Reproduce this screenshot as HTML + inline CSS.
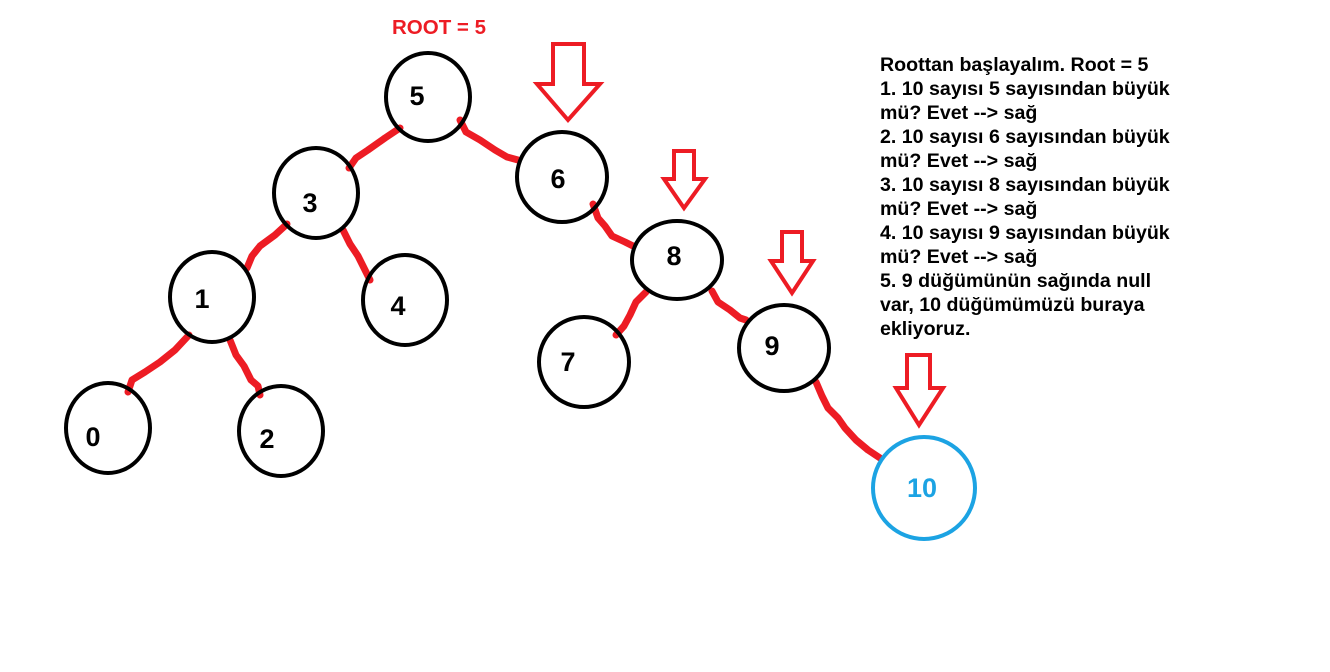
<!DOCTYPE html>
<html><head><meta charset="utf-8"><style>
html,body{margin:0;padding:0;background:#fff;}
svg{display:block;}
.lbl{font-family:"Liberation Sans",sans-serif;font-weight:bold;font-size:27px;fill:#000;text-anchor:middle;dominant-baseline:central;}
.info{font-family:"Liberation Sans",sans-serif;font-weight:bold;font-size:19.6px;fill:#000;}
</style></head><body>
<svg width="1330" height="672" viewBox="0 0 1330 672">
<text x="439" y="34" fill="#ed1c24" font-family="Liberation Sans, sans-serif" font-weight="bold" font-size="20.5" text-anchor="middle">ROOT = 5</text>
<g id="edges" stroke="#ed1c24" stroke-width="7" fill="none" stroke-linecap="round" stroke-linejoin="round">
<path d="M400,128 L385,138 L368,150 L356,158 L349,168"/>
<path d="M460,120 L466,132 L480,140 L495,150 L507,157 L518,160"/>
<path d="M287,224 L275,235 L260,246 L252,256 L247,268"/>
<path d="M343,230 L350,244 L358,256 L364,268 L370,280"/>
<path d="M189,335 L175,350 L160,362 L145,372 L132,380 L128,392"/>
<path d="M230,340 L236,355 L244,366 L251,380 L258,386 L260,395"/>
<path d="M593,204 L598,218 L605,226 L612,236 L625,242 L633,246"/>
<path d="M646,292 L636,302 L630,315 L624,326 L616,335"/>
<path d="M712,291 L718,302 L730,310 L740,318 L746,320"/>
<path d="M816,382 L822,396 L828,408 L838,418 L845,428 L856,440 L868,450 L880,458"/>
</g>
<g fill="none" stroke="#000" stroke-width="4">
<ellipse cx="428" cy="97" rx="42" ry="44"/>
<ellipse cx="316" cy="193" rx="42" ry="45"/>
<ellipse cx="562" cy="177" rx="45" ry="45"/>
<ellipse cx="212" cy="297" rx="42" ry="45"/>
<ellipse cx="405" cy="300" rx="42" ry="45"/>
<ellipse cx="677" cy="260" rx="45" ry="39"/>
<ellipse cx="584" cy="362" rx="45" ry="45"/>
<ellipse cx="784" cy="348" rx="45" ry="43"/>
<ellipse cx="108" cy="428" rx="42" ry="45"/>
<ellipse cx="281" cy="431" rx="42" ry="45"/>
</g>
<circle cx="924" cy="488" r="51" fill="none" stroke="#1ca3e3" stroke-width="4"/>
<text class="lbl" x="417" y="96">5</text>
<text class="lbl" x="310" y="203">3</text>
<text class="lbl" x="558" y="179">6</text>
<text class="lbl" x="202" y="299">1</text>
<text class="lbl" x="398" y="306">4</text>
<text class="lbl" x="674" y="256">8</text>
<text class="lbl" x="568" y="362">7</text>
<text class="lbl" x="772" y="346">9</text>
<text class="lbl" x="93" y="437">0</text>
<text class="lbl" x="267" y="439">2</text>
<text class="lbl" x="922" y="488" style="fill:#1ca3e3">10</text>
<g fill="none" stroke="#ed1c24" stroke-width="4" stroke-linejoin="miter">
<polygon points="553,44 584,44 584,84 600,84 568,120 537,84 553,84"/>
<polygon points="674,151 694,151 694,179 705,179 684,208 664,179 674,179"/>
<polygon points="782,232 802,232 802,261 813,261 792,293 771,261 782,261"/>
<polygon points="907,355 930,355 930,388 943,388 919,425 896,388 907,388"/>
</g>
<g class="info">
<text x="880" y="71">Roottan başlayalım. Root = 5</text>
<text x="880" y="95">1. 10 sayısı 5 sayısından büyük</text>
<text x="880" y="119">mü? Evet --&gt; sağ</text>
<text x="880" y="143">2. 10 sayısı 6 sayısından büyük</text>
<text x="880" y="167">mü? Evet --&gt; sağ</text>
<text x="880" y="191">3. 10 sayısı 8 sayısından büyük</text>
<text x="880" y="215">mü? Evet --&gt; sağ</text>
<text x="880" y="239">4. 10 sayısı 9 sayısından büyük</text>
<text x="880" y="263">mü? Evet --&gt; sağ</text>
<text x="880" y="287">5. 9 düğümünün sağında null</text>
<text x="880" y="311">var, 10 düğümümüzü buraya</text>
<text x="880" y="335">ekliyoruz.</text>
</g>
</svg>
</body></html>
